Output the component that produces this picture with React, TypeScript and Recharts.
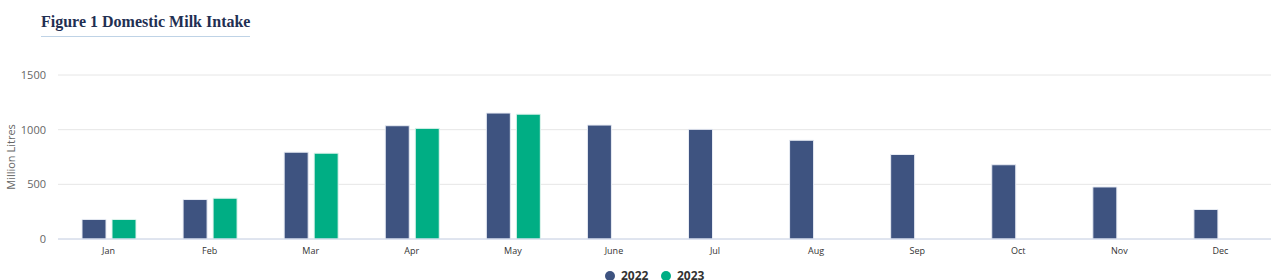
import React from "react";
import { BarChart, Bar, XAxis, YAxis, CartesianGrid, Legend } from "recharts";

const months = ["Jan", "Feb", "Mar", "Apr", "May", "June", "Jul", "Aug", "Sep", "Oct", "Nov", "Dec"];
const intake2022 = [179, 361, 794, 1036, 1152, 1042, 1003, 903, 773, 679, 476, 270];
const intake2023: (number | null)[] = [179, 373, 785, 1012, 1142, null, null, null, null, null, null, null];
const yTicks = [0, 500, 1000, 1500];

const NAVY = "#3e5380";
const GREEN = "#00ae84";
const FONT = "'Open Sans', 'Noto Sans', sans-serif";

const data = months.map((m, i) => ({
  month: m,
  y2022: intake2022[i],
  y2023: intake2023[i],
}));

const LegendBox = () => (
  <div
    style={{
      display: "flex",
      justifyContent: "flex-start",
      alignItems: "center",
      height: 21,
      paddingTop: 13,
      paddingLeft: 605,
      boxSizing: "border-box",
      fontFamily: FONT,
      fontSize: 12,
      fontWeight: 700,
      color: "#333",
    }}
  >
    {[
      { name: "2022", color: NAVY },
      { name: "2023", color: GREEN },
    ].map((it) => (
      <div key={it.name} style={{ display: "flex", alignItems: "center", width: 56 }}>
        <span
          style={{
            width: 10,
            height: 10,
            borderRadius: 5,
            background: it.color,
            display: "inline-block",
            marginRight: 6,
          }}
        />
        <span style={{ lineHeight: "12px" }}>{it.name}</span>
      </div>
    ))}
  </div>
);

const YLabel = (props: any) => {
  const vb = props.viewBox || { y: 75, height: 164 };
  const cy = vb.y + vb.height / 2;
  return (
    <text
      x={15}
      y={cy}
      transform={`rotate(-90, 15, ${cy})`}
      textAnchor="middle"
      fontSize={11}
      fill="#666"
      fontFamily={FONT}
    >
      Million Litres
    </text>
  );
};

export default function App() {
  return (
    <div style={{ position: "relative", width: 1285, height: 280, background: "#fff" }}>
      <style>{`body{margin:0}`}</style>
      <div
        style={{
          position: "absolute",
          left: 41,
          top: 13,
          fontFamily: "'Liberation Serif', 'DejaVu Serif', serif",
          fontWeight: 700,
          fontSize: 16,
          color: "#1f2f52",
          paddingBottom: 5,
          borderBottom: "1px solid #bfd3e6",
          lineHeight: "18px",
        }}
      >
        Figure 1 Domestic Milk Intake
      </div>
      <BarChart
        width={1285}
        height={280}
        data={data}
        margin={{ top: 75, right: 14, left: 0, bottom: 0 }}
        barSize={24}
        barGap={6}
      >
        <CartesianGrid vertical={false} stroke="#e6e6e6" />
        <XAxis
          dataKey="month"
          height={20}
          tickLine={false}
          tickSize={0}
          tickMargin={9}
          axisLine={{ stroke: "#ccd6eb" }}
          tick={{ fontSize: 9, fill: "#333", fontFamily: FONT }}
          interval={0}
        />
        <YAxis
          width={58}
          domain={[0, 1500]}
          ticks={yTicks}
          tickLine={false}
          axisLine={false}
          tickSize={0}
          tickMargin={12}
          tick={{ fontSize: 11, fill: "#666", fontFamily: FONT }}
          label={YLabel}
        />
        <Legend verticalAlign="bottom" height={21} content={LegendBox} />
        <Bar dataKey="y2022" name="2022" fill={NAVY} stroke="#e8ecf4" strokeWidth={1} isAnimationActive={false} />
        <Bar dataKey="y2023" name="2023" fill={GREEN} stroke="#e3f5ef" strokeWidth={1} isAnimationActive={false} />
      </BarChart>
    </div>
  );
}
